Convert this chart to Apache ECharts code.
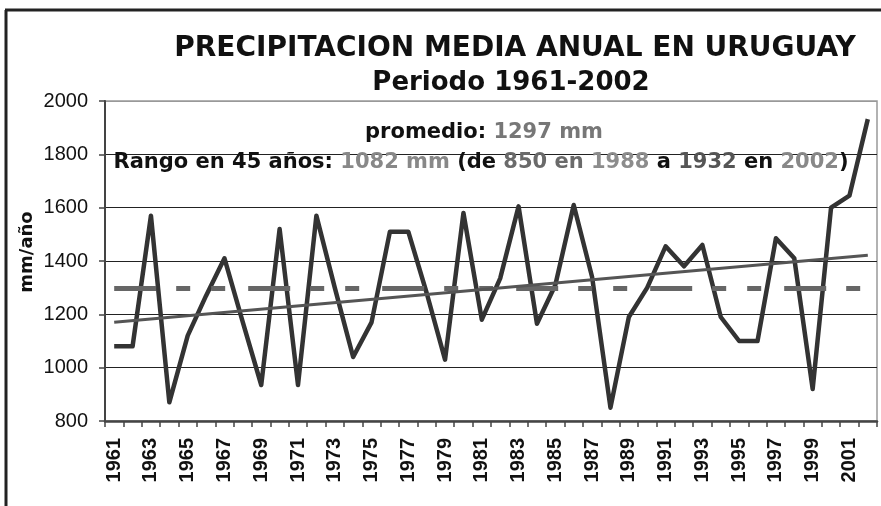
<!DOCTYPE html>
<html>
<head>
<meta charset="utf-8">
<script src="https://cdn.jsdelivr.net/npm/echarts@6/dist/echarts.min.js"></script>
<style>
  html, body { margin: 0; padding: 0; background: #fff; }
  #chart { width: 881px; height: 506px; }
</style>
</head>
<body>
<div id="chart"></div>
<script>
// años 1961-2002
const years = ['1961','1962','1963','1964','1965','1966','1967','1968','1969','1970',
  '1971','1972','1973','1974','1975','1976','1977','1978','1979','1980',
  '1981','1982','1983','1984','1985','1986','1987','1988','1989','1990',
  '1991','1992','1993','1994','1995','1996','1997','1998','1999','2000',
  '2001','2002'];
// precipitacion mm/año
const rain = [1080, 1080, 1570, 870, 1120, 1270, 1410, 1170, 935, 1520,
  935, 1570, 1300, 1040, 1170, 1510, 1510, 1280, 1030, 1580,
  1180, 1335, 1605, 1165, 1310, 1610, 1340, 850, 1190, 1300,
  1455, 1380, 1460, 1190, 1100, 1100, 1485, 1410, 920, 1600,
  1645, 1932];
const promedio = 1297;
const trendStart = 1170, trendEnd = 1422;
const yTicks = [800, 1000, 1200, 1400, 1600, 1800, 2000];

const chart = echarts.init(document.getElementById('chart'));

const bold = 'bold 21px "DejaVu Sans"';

chart.setOption({
  animation: false,
  backgroundColor: '#fff',
  grid: { left: 105, top: 101, right: 4, bottom: 85, show: true, borderColor: '#999', borderWidth: 1.5 },
  xAxis: {
    type: 'category',
    data: years,
    boundaryGap: true,
    axisLine: { lineStyle: { color: '#444', width: 2.5 } },
    axisTick: { show: true, interval: 0, length: 6, lineStyle: { color: '#444', width: 1.5 } },
    axisLabel: {
      interval: 1, rotate: 90, margin: 17,
      fontFamily: 'Arial', fontWeight: 'bold', fontSize: 20, color: '#111'
    },
    splitLine: { show: false }
  },
  yAxis: {
    type: 'value',
    min: yTicks[0], max: yTicks[yTicks.length - 1], interval: 200,
    axisLine: { show: true, lineStyle: { color: '#444', width: 2 } },
    axisTick: { show: true, length: 6, lineStyle: { color: '#444', width: 1.5 } },
    axisLabel: { margin: 17, fontFamily: 'Arial', fontSize: 20, color: '#111', formatter: v => String(v) },
    splitLine: { lineStyle: { color: ['#222','#222','#222','#222','#222','#222','#999'], width: 1 } }
  },
  series: [{
    type: 'line',
    data: rain,
    symbol: 'none',
    lineStyle: { color: '#333', width: 4.5, join: 'round' },
    z: 3,
    markLine: {
      silent: true,
      symbol: 'none',
      label: { show: false },
      data: [
        [
          { coord: [years[0], promedio], lineStyle: { color: '#666', width: 5, type: [42, 20, 14, 21, 14, 23], cap: 'butt' } },
          { coord: [years[years.length - 1], promedio] }
        ],
        [
          { coord: [years[0], trendStart], lineStyle: { color: '#555', width: 3, type: 'solid' } },
          { coord: [years[years.length - 1], trendEnd] }
        ]
      ]
    }
  }],
  graphic: [
    { type: 'line', shape: { x1: 5, y1: 10, x2: 881, y2: 10 }, style: { stroke: '#222', lineWidth: 3 } },
    { type: 'line', shape: { x1: 6, y1: 10, x2: 6, y2: 506 }, style: { stroke: '#222', lineWidth: 3 } },
    { type: 'text', x: 515, y: 49, style: { text: 'PRECIPITACION MEDIA ANUAL EN URUGUAY', font: 'bold 28px "DejaVu Sans"', fill: '#111', align: 'center', verticalAlign: 'middle' } },
    { type: 'text', x: 511, y: 83, style: { text: 'Periodo 1961-2002', font: 'bold 26px "DejaVu Sans"', fill: '#111', align: 'center', verticalAlign: 'middle' } },
    { type: 'text', x: 484, y: 133, z: 10, style: {
      text: '{k|promedio: }{g|1297 mm}',
      align: 'center', verticalAlign: 'middle',
      rich: { k: { font: bold, fill: '#111' }, g: { font: bold, fill: '#777' } }
    } },
    { type: 'text', x: 481, y: 163, z: 10, style: {
      text: '{k|Rango en 45 años: }{g|1082 mm }{k|(de }{m|850 en }{l|1988 }{k|a }{d|1932 }{k|en }{g|2002}{k|)}',
      align: 'center', verticalAlign: 'middle',
      rich: {
        k: { font: bold, fill: '#111' },
        g: { font: bold, fill: '#888' },
        m: { font: bold, fill: '#6a6a6a' },
        l: { font: bold, fill: '#8c8c8c' },
        d: { font: bold, fill: '#555' }
      }
    } },
    { type: 'text', x: 27, y: 252, rotation: Math.PI / 2, style: { text: 'mm/año', font: 'bold 18px "DejaVu Sans"', fill: '#111', align: 'center', verticalAlign: 'middle' } }
  ]
});
</script>
</body>
</html>
